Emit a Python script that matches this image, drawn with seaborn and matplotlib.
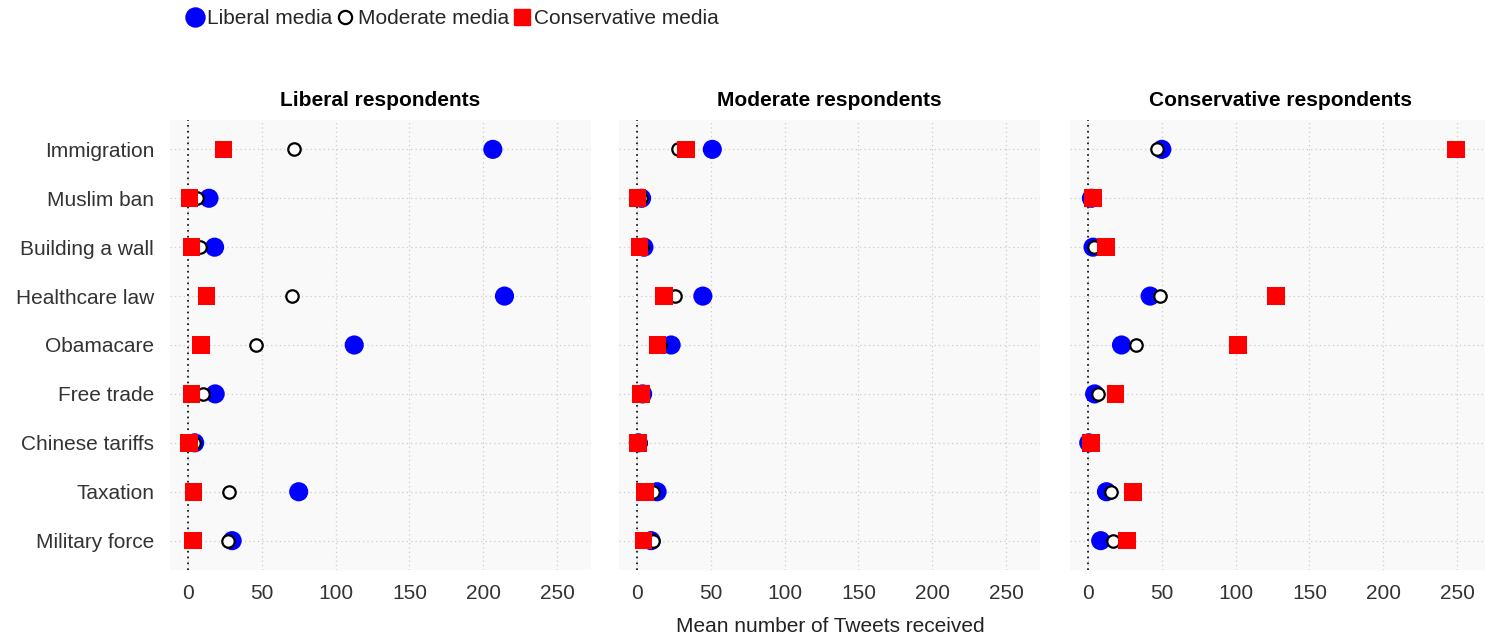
import matplotlib
matplotlib.use("Agg")
import matplotlib.pyplot as plt
import seaborn as sns
import pandas as pd
from matplotlib.lines import Line2D

topics = ["Immigration", "Muslim ban", "Building a wall", "Healthcare law", "Obamacare",
          "Free trade", "Chinese tariffs", "Taxation", "Military force"]
panels = ["Liberal respondents", "Moderate respondents", "Conservative respondents"]
media = ["Liberal media", "Moderate media", "Conservative media"]

# values per panel: liberal media, moderate media, conservative media
lib_resp_lib = [206.5, 14.2, 18.0, 214.4, 112.6, 18.4, 4.5, 75.0, 29.9]
lib_resp_mod = [71.6, 6.0, 7.9, 70.7, 45.9, 10.1, 3.8, 27.7, 27.2]
lib_resp_con = [23.9, 1.1, 2.5, 12.4, 8.8, 2.5, 0.7, 3.8, 3.4]

mod_resp_lib = [51.0, 3.1, 4.7, 44.6, 23.1, 3.8, 0.9, 13.6, 9.5]
mod_resp_mod = [27.8, 3.0, 3.5, 26.0, 15.4, 3.2, 2.0, 10.6, 11.1]
mod_resp_con = [33.3, 0.4, 1.8, 18.1, 14.0, 2.7, 0.6, 5.5, 4.3]

con_resp_lib = [50.0, 2.3, 3.4, 42.1, 22.7, 4.5, 0.5, 12.5, 8.6]
con_resp_mod = [46.4, 2.7, 3.9, 48.6, 32.4, 6.8, 0.9, 15.9, 17.0]
con_resp_con = [249.3, 3.4, 12.2, 127.3, 101.6, 18.6, 1.9, 30.3, 26.5]

xticks = [0, 50, 100, 150, 200, 250]

values = {
    panels[0]: [lib_resp_lib, lib_resp_mod, lib_resp_con],
    panels[1]: [mod_resp_lib, mod_resp_mod, mod_resp_con],
    panels[2]: [con_resp_lib, con_resp_mod, con_resp_con],
}

rows = []
for p in panels:
    for m, vals in zip(media, values[p]):
        for t, v in zip(topics, vals):
            rows.append({"panel": p, "media": m, "topic": t, "value": v})
df = pd.DataFrame(rows)

sns.set_theme(style="white")
plt.rcParams["font.family"] = ["Liberation Sans", "DejaVu Sans"]

W, H = 1485, 641
fig = plt.figure(figsize=(W / 100, H / 100), dpi=100)

lefts = [170, 619, 1070]
pw = 421
top, bottom = 120, 570

styles = {
    "Liberal media": dict(marker="o", s=190, color="#0000FF", edgecolor="none", linewidth=0),
    "Moderate media": dict(marker="o", s=80, color="white", edgecolor="black", linewidth=1.6),
    "Conservative media": dict(marker="s", s=160, color="#FF0000", edgecolor="none", linewidth=0),
}

topic_pos = {t: i for i, t in enumerate(topics)}
df["ypos"] = df["topic"].map(topic_pos)

for i, p in enumerate(panels):
    ax = fig.add_axes([lefts[i] / W, 1 - bottom / H, pw / W, (bottom - top) / H])
    ax.set_facecolor("#F9F9F9")
    sub = df[df["panel"] == p]
    for m in media:
        d = sub[sub["media"] == m]
        sns.scatterplot(data=d, x="value", y="ypos", ax=ax, legend=False, zorder=3, **styles[m])
    ax.set_xlim(-12.2, 273)
    ax.set_ylim(8.6, -0.6)
    ax.set_xticks(xticks)
    ax.set_xticklabels([str(x) for x in xticks], fontsize=15, color="#333333")
    ax.set_yticks(range(len(topics)))
    if i == 0:
        ax.set_yticklabels(topics, fontsize=15, color="#333333")
    else:
        ax.set_yticklabels([])
    ax.tick_params(axis="x", length=0, pad=10)
    ax.tick_params(axis="y", length=0, pad=11.5)
    ax.grid(True, color="#CCCCCC", linestyle=(0, (1, 2.5)), linewidth=0.9)
    ax.set_axisbelow(True)
    ax.axvline(0, color="black", linestyle=(0, (1, 2.5)), linewidth=1.2, zorder=2)
    for s in ax.spines.values():
        s.set_visible(False)
    ax.set_xlabel("")
    ax.set_ylabel("")
    ax.set_title(p, fontsize=15, fontweight="bold", pad=10, color="black")

fig.text(830 / W, 1 - 627 / H, "Mean number of Tweets received", ha="center", va="center",
         fontsize=15, color="#222222")

handles = [
    Line2D([], [], marker="o", linestyle="none", markersize=13.7, markerfacecolor="#0000FF", markeredgecolor="#0000FF"),
    Line2D([], [], marker="o", linestyle="none", markersize=9.5, markerfacecolor="white", markeredgecolor="black", markeredgewidth=1.6),
    Line2D([], [], marker="s", linestyle="none", markersize=12.2, markerfacecolor="#FF0000", markeredgecolor="#FF0000"),
]
fig.legend(handles, media, loc="center left", bbox_to_anchor=(186.3 / W, 1 - 19 / H), ncol=3,
           frameon=False, fontsize=15, handlelength=0.8, handletextpad=0.2, columnspacing=0.22,
           borderpad=0, borderaxespad=0)

fig.savefig("out.png", dpi=100)
